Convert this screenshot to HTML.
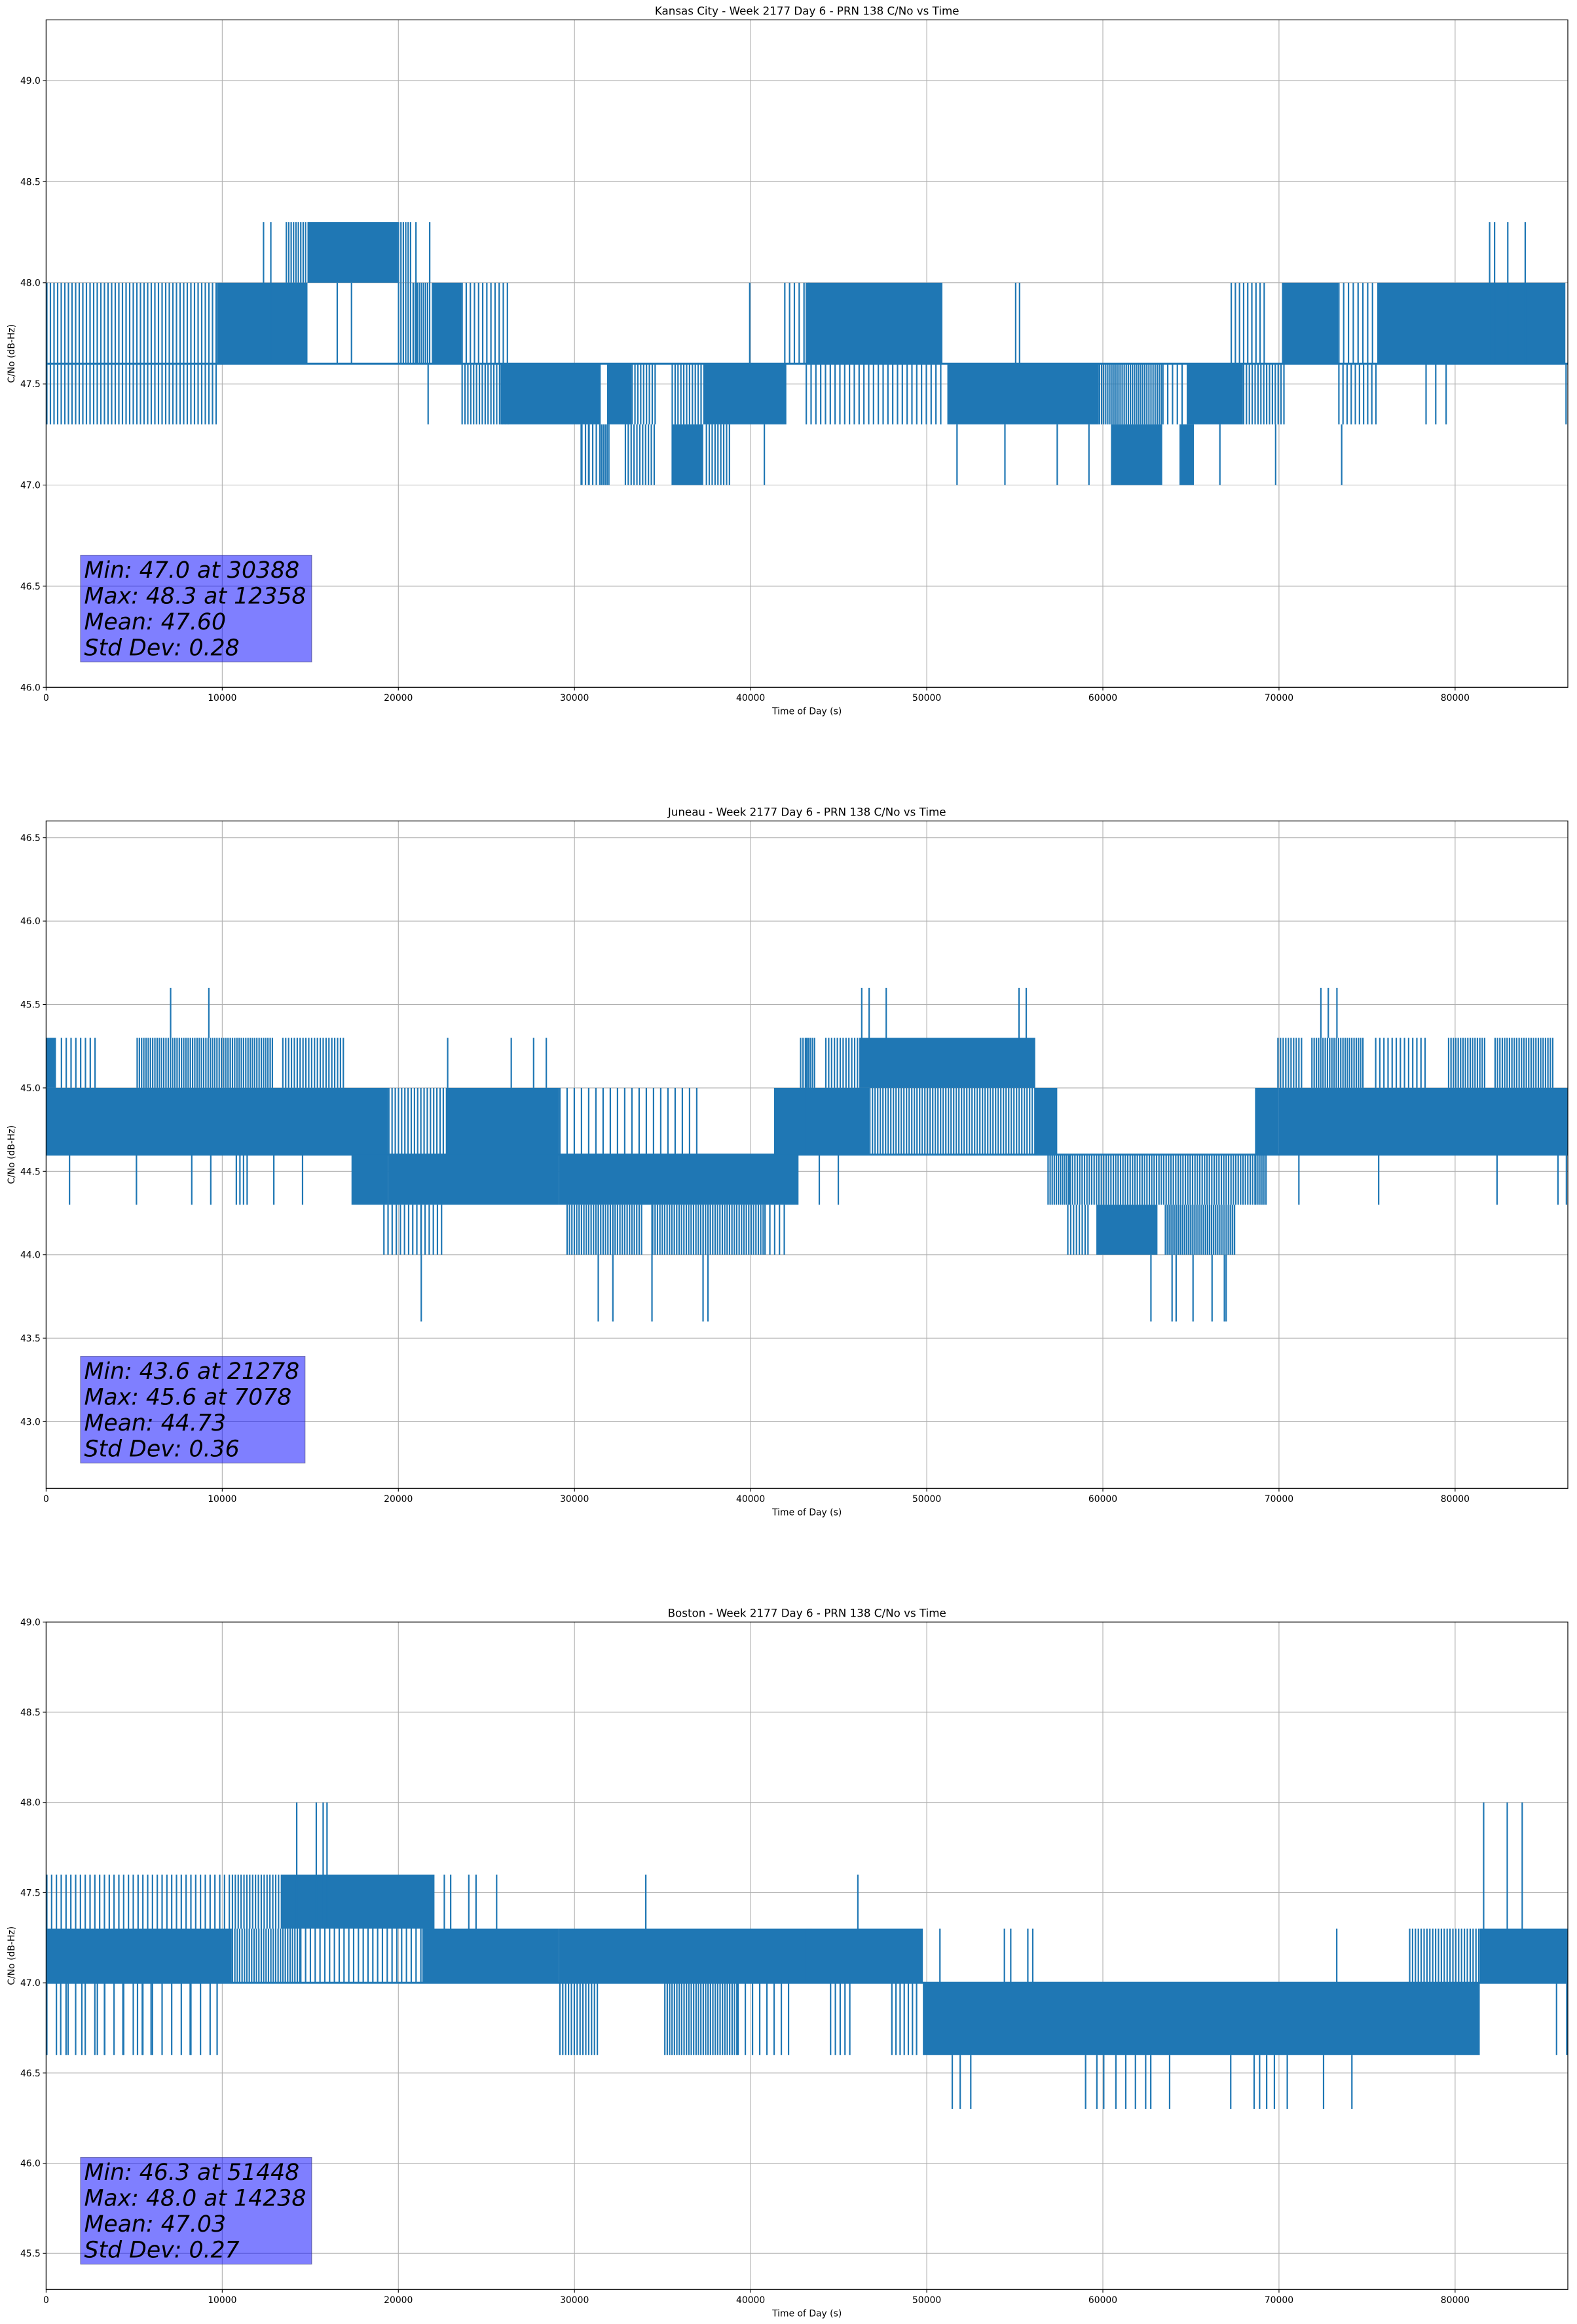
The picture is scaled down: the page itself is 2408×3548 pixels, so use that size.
<!DOCTYPE html>
<html><head><meta charset="utf-8"><title>PRN 138 C/No vs Time</title>
<style>
html,body{margin:0;padding:0;background:#fff;}
svg{display:block;font-family:"DejaVu Sans","Liberation Sans",sans-serif;}
</style></head>
<body>
<svg id="fig" xmlns="http://www.w3.org/2000/svg" width="2408" height="3548" viewBox="0 0 2408 3548"></svg>
<script>
// ---------- Shared axis data ----------
const xTicks = [0,10000,20000,30000,40000,50000,60000,70000,80000];
const xMax = 86400;

// ---------- Kansas City ----------
const kcTitle = "Kansas City - Week 2177 Day 6 - PRN 138 C/No vs Time";
const kcYRange = [46.0, 49.3];
const kcYTicks = [46.0,46.5,47.0,47.5,48.0,48.5,49.0];
const kcStats = ["Min: 47.0 at 30388","Max: 48.3 at 12358","Mean: 47.60","Std Dev: 0.28"];
const kcBandStart = [0,0,9700,12200,13600,14840,19970,19970,20800,21900,23580,23580,25800,30380,31400,31850,32850,33230,35510,35510,37310,37450,41900,43120,43120,51170,59770,60460,63370,64350,64760,67250,67950,70170,73360,73360,75580];
const kcBandEnd   = [9700,9700,12200,14840,14840,19970,20800,20800,21800,23580,26350,26350,31490,31490,32040,33230,34540,34680,37310,37310,42030,38840,43500,50890,50890,59770,63370,63370,64760,65170,67950,69200,70300,73360,75580,75580,86260];
const kcBandLo    = [47.6,47.3,47.6,47.6,48.0,48.0,48.0,47.6,47.6,47.6,47.6,47.3,47.3,47.0,47.0,47.3,47.0,47.3,47.0,47.3,47.3,47.0,47.6,47.6,47.3,47.3,47.3,47.0,47.3,47.0,47.3,47.6,47.3,47.6,47.6,47.3,47.6];
const kcBandHi    = [48.0,47.6,48.0,48.0,48.3,48.3,48.3,48.0,48.0,48.0,48.0,47.6,47.6,47.3,47.3,47.6,47.3,47.6,47.3,47.6,47.6,47.3,48.0,48.0,47.6,47.6,47.6,47.3,47.6,47.3,47.6,48.0,47.6,48.0,48.0,47.6,48.0];
const kcBandDensity=[0.4,0.4,0.95,0.85,0.6,1,0.6,0.6,0.7,1,0.35,0.5,0.95,0.4,0.8,1,0.5,0.5,0.9,0.5,0.9,0.5,0.3,0.85,0.3,0.95,0.7,0.85,0.3,0.9,0.85,0.35,0.5,0.95,0.3,0.35,0.9];
const kcSpikeT  = [12345,12760,16530,17340,21000,21780,21690,30380,30800,40780,39950,51720,54440,57410,59210,66645,69810,55050,55270,81960,82240,82990,83980,78350,78900,79490,73560,86300];
const kcSpikeLo = [47.6,47.6,47.6,47.6,47.6,48.0,47.3,47.0,47.0,47.0,47.6,47.0,47.0,47.0,47.0,47.0,47.0,47.6,47.6,47.6,47.6,47.6,47.6,47.3,47.3,47.3,47.0,47.3];
const kcSpikeHi = [48.3,48.3,48.0,48.0,48.3,48.3,47.6,47.3,47.3,47.3,48.0,47.3,47.3,47.3,47.3,47.3,47.3,48.0,48.0,48.3,48.3,48.3,48.3,47.6,47.6,47.6,47.3,47.6];
const kcBaseLevel = 47.6;

// ---------- Juneau ----------
const jnTitle = "Juneau - Week 2177 Day 6 - PRN 138 C/No vs Time";
const jnYRange = [42.6, 46.6];
const jnYTicks = [43.0,43.5,44.0,44.5,45.0,45.5,46.0,46.5];
const jnStats = ["Min: 43.6 at 21278","Max: 45.6 at 7078","Mean: 44.73","Std Dev: 0.36"];
const jnBandStart = [0,0,830,5130,13400,10760,16500,17340,19420,19420,22750,19140,29130,29540,34400,40780,29130,41330,42800,43120,46730,43120,44230,46170,56160,56850,58100,57970,59630,63510,68640,68640,69970,69900,71830,75450,79590,82230];
const jnBandEnd   = [16640,560,3000,12900,16920,11600,19420,19420,29130,22750,29130,22610,42720,33840,40780,42000,37300,43500,43500,46730,56160,43680,46170,56160,57410,58100,68640,59210,63100,67530,69970,69340,86400,71300,74880,78500,81680,85570];
const jnBandLo    = [44.6,45.0,45.0,45.0,45.0,44.3,44.6,44.3,44.3,44.6,44.6,44.0,44.3,44.0,44.0,44.0,44.6,44.6,45.0,44.6,44.6,45.0,45.0,45.0,44.6,44.3,44.3,44.0,44.0,44.0,44.6,44.3,44.6,45.0,45.0,45.0,45.0,45.0];
const jnBandHi    = [45.0,45.3,45.3,45.3,45.3,44.6,45.0,44.6,44.6,45.0,45.0,44.3,44.6,44.3,44.3,44.3,45.0,45.0,45.3,45.0,45.0,45.3,45.3,45.3,45.0,44.6,44.6,44.3,44.3,44.3,45.0,44.6,45.0,45.3,45.3,45.3,45.3,45.3];
const jnBandDensity=[0.9,0.9,0.3,0.65,0.5,0.4,0.85,0.85,0.9,0.45,0.85,0.35,0.95,0.6,0.6,0.3,0.2,0.9,0.6,0.9,0.55,0.7,0.5,0.9,0.95,0.7,0.6,0.5,0.95,0.75,0.95,0.7,0.85,0.55,0.65,0.35,0.6,0.6];
const jnSpikeT  = [7070,9240,46310,46730,47700,55240,55650,72380,72800,73290,21300,31350,32180,34400,37300,37580,62730,63930,64160,65120,66200,66900,67000,1330,5130,8270,9350,12930,14560,43900,44980,71130,75660,82380,85840,86320,22800,26410,27680,28400];
const jnSpikeLo = [45.3,45.3,45.3,45.3,45.3,45.3,45.3,45.3,45.3,45.3,43.6,43.6,43.6,43.6,43.6,43.6,43.6,43.6,43.6,43.6,43.6,43.6,43.6,44.3,44.3,44.3,44.3,44.3,44.3,44.3,44.3,44.3,44.3,44.3,44.3,44.3,45.0,45.0,45.0,45.0];
const jnSpikeHi = [45.6,45.6,45.6,45.6,45.6,45.6,45.6,45.6,45.6,45.6,44.3,44.3,44.3,44.3,44.3,44.3,44.0,44.0,44.0,44.0,44.0,44.0,44.0,44.6,44.6,44.6,44.6,44.6,44.6,44.6,44.6,44.6,44.6,44.6,44.6,44.6,45.3,45.3,45.3,45.3];
const jnBaseLevel = 44.6;

// ---------- Boston ----------
const bsTitle = "Boston - Week 2177 Day 6 - PRN 138 C/No vs Time";
const bsYRange = [45.3, 49.0];
const bsYTicks = [45.5,46.0,46.5,47.0,47.5,48.0,48.5,49.0];
const bsStats = ["Min: 46.3 at 51448","Max: 48.0 at 14238","Mean: 47.03","Std Dev: 0.27"];
const bsBandStart = [0,10540,14420,21360,29130,0,10540,13320,0,29130,35090,39250,43120,44500,47980,49780,77380,81400];
const bsBandEnd   = [10540,14420,21360,29130,43500,10540,13320,22050,9700,31350,39250,42170,49780,45900,49500,81400,81400,86400];
const bsBandLo    = [47.0,47.0,47.0,47.0,47.0,47.3,47.3,47.3,46.6,46.6,46.6,46.6,47.0,46.6,46.6,46.6,47.0,47.0];
const bsBandHi    = [47.3,47.3,47.3,47.3,47.3,47.6,47.6,47.6,47.0,47.0,47.0,47.0,47.3,47.0,47.0,47.0,47.3,47.3];
const bsBandDensity=[0.9,0.6,0.3,0.95,0.95,0.3,0.5,0.95,0.15,0.5,0.6,0.2,0.85,0.3,0.35,0.95,0.5,0.95];
const bsSpikeT  = [14230,15340,15730,15950,22610,22970,24000,24410,25580,34050,46090,81620,82960,83810,830,1250,2030,2910,3330,4360,5190,5460,5960,8180,9710,51450,51900,52500,59020,59660,60050,60740,61300,61850,62430,62720,63790,67260,68590,68900,69300,69740,70470,72530,74140,50750,54410,54770,55740,56020,73280,85760,86340];
const bsSpikeLo = [47.3,47.3,47.3,47.3,47.3,47.3,47.3,47.3,47.3,47.3,47.0,47.3,47.3,47.3,46.6,46.6,46.6,46.6,46.6,46.6,46.6,46.6,46.6,46.6,46.6,46.3,46.3,46.3,46.3,46.3,46.3,46.3,46.3,46.3,46.3,46.3,46.3,46.3,46.3,46.3,46.3,46.3,46.3,46.3,46.3,47.0,47.0,47.0,47.0,47.0,47.0,46.6,46.6];
const bsSpikeHi = [48.0,48.0,48.0,48.0,47.6,47.6,47.6,47.6,47.6,47.6,47.6,48.0,48.0,48.0,47.0,47.0,47.0,47.0,47.0,47.0,47.0,47.0,47.0,47.0,47.0,46.6,46.6,46.6,46.6,46.6,46.6,46.6,46.6,46.6,46.6,46.6,46.6,46.6,46.6,46.6,46.6,46.6,46.6,46.6,46.6,47.3,47.3,47.3,47.3,47.3,47.3,47.0,47.0];
const bsBaseLevel = 47.0;

const NS = "http://www.w3.org/2000/svg";
const fig = document.getElementById('fig');
const AX_LEFT = 70.4, AX_RIGHT = 2394, AX_H = 1019;
const BLUE = "#1f77b4";

function mk(tag, attrs, parent) {
  const e = document.createElementNS(NS, tag);
  for (const k in attrs) e.setAttribute(k, attrs[k]);
  parent.appendChild(e);
  return e;
}

function drawChart(key, top, title, yRange, yTicks, stats, bS, bE, bLo, bHi, bD, sT, sLo, sHi, base) {
  const bottom = top + AX_H;
  const xs = t => AX_LEFT + t / xMax * (AX_RIGHT - AX_LEFT);
  const ys = v => bottom - (v - yRange[0]) / (yRange[1] - yRange[0]) * AX_H;

  const g = mk('g', {}, fig);
  
  

  const grid = mk('g', {stroke: '#b0b0b0', 'stroke-width': 1.1}, g);
  
  
  xTicks.forEach(t => mk('line', {x1: xs(t), x2: xs(t), y1: top, y2: bottom}, grid));
  yTicks.forEach(v => mk('line', {x1: AX_LEFT, x2: AX_RIGHT, y1: ys(v), y2: ys(v)}, grid));

  const series = mk('g', {}, g);
  
  
  // baseline level trace
  const bl = mk('line', {x1: xs(0), x2: xs(xMax), y1: ys(base), y2: ys(base), stroke: BLUE, 'stroke-width': 3}, series);
  
  
  for (let i = 0; i < bS.length; i++) {
    const x0 = xs(bS[i]), x1 = xs(bE[i]);
    const y0 = ys(bHi[i]), y1 = ys(bLo[i]);
    if (bD[i] >= 0.85) {
      const r = mk('rect', {x: x0, y: y0, width: Math.max(1, x1 - x0), height: y1 - y0, fill: BLUE}, series);
      
      
    } else {
      const bg = mk('g', {stroke: BLUE, 'stroke-width': 2.2}, series);
      
      
      const period = 2.2 / bD[i];
      for (let x = x0 + 1.1; x <= x1; x += period) {
        mk('line', {x1: x, x2: x, y1: y0, y2: y1}, bg);
      }
    }
  }
  for (let i = 0; i < sT.length; i++) {
    const l = mk('line', {x1: xs(sT[i]), x2: xs(sT[i]), y1: ys(sLo[i]), y2: ys(sHi[i]), stroke: BLUE, 'stroke-width': 2.2}, series);
    
    
  }

  const frame = mk('rect', {x: AX_LEFT, y: top, width: AX_RIGHT - AX_LEFT, height: AX_H, fill: 'none', stroke: '#000', 'stroke-width': 1.2}, g);
  
  

  const xt = mk('g', {'font-size': 13.9, fill: '#000', 'text-anchor': 'middle'}, g);
  
  
  xTicks.forEach(t => {
    mk('line', {x1: xs(t), x2: xs(t), y1: bottom, y2: bottom + 4.9, stroke: '#000', 'stroke-width': 1.1}, xt);
    const tx = mk('text', {x: xs(t), y: bottom + 20.5}, xt);
    tx.textContent = String(t);
  });
  const yt = mk('g', {'font-size': 13.9, fill: '#000', 'text-anchor': 'end'}, g);
  
  
  yTicks.forEach(v => {
    mk('line', {x1: AX_LEFT - 4.9, x2: AX_LEFT, y1: ys(v), y2: ys(v), stroke: '#000', 'stroke-width': 1.1}, yt);
    const tx = mk('text', {x: AX_LEFT - 8.5, y: ys(v) + 5}, yt);
    tx.textContent = v.toFixed(1);
  });

  const xl = mk('text', {x: (AX_LEFT + AX_RIGHT) / 2, y: bottom + 41, 'font-size': 13.9, 'text-anchor': 'middle'}, g);
  xl.textContent = 'Time of Day (s)';
  
  
  const cy = top + AX_H / 2;
  const yl = mk('text', {x: 22, y: cy, 'font-size': 13.9, 'text-anchor': 'middle', transform: 'rotate(-90 22 ' + cy + ')'}, g);
  yl.textContent = 'C/No (dB-Hz)';
  
  
  const ti = mk('text', {x: (AX_LEFT + AX_RIGHT) / 2, y: top - 8, 'font-size': 16.7, 'text-anchor': 'middle'}, g);
  ti.textContent = title;
  
  

  const sb = mk('g', {}, g);
  
  
  const boxTop = bottom - 201.7;
  const rect = mk('rect', {x: 123, y: boxTop, width: 351, height: 163, fill: 'rgba(0,0,255,0.5)', stroke: 'rgba(60,60,120,0.6)', 'stroke-width': 1.2}, sb);
  let maxW = 0;
  stats.forEach((s, i) => {
    const tx = mk('text', {x: 128.5, y: boxTop + 34.5 + i * 39.4, 'font-size': 34.7, 'font-style': 'oblique', fill: '#000'}, sb);
    tx.textContent = s;
    
    
    maxW = Math.max(maxW, tx.getComputedTextLength());
  });
  if (maxW > 0) rect.setAttribute('width', maxW + 14);
}

drawChart('kansas-city', 30.3, kcTitle, kcYRange, kcYTicks, kcStats, kcBandStart, kcBandEnd, kcBandLo, kcBandHi, kcBandDensity, kcSpikeT, kcSpikeLo, kcSpikeHi, kcBaseLevel);
drawChart('juneau', 1253.3, jnTitle, jnYRange, jnYTicks, jnStats, jnBandStart, jnBandEnd, jnBandLo, jnBandHi, jnBandDensity, jnSpikeT, jnSpikeLo, jnSpikeHi, jnBaseLevel);
drawChart('boston', 2476.3, bsTitle, bsYRange, bsYTicks, bsStats, bsBandStart, bsBandEnd, bsBandLo, bsBandHi, bsBandDensity, bsSpikeT, bsSpikeLo, bsSpikeHi, bsBaseLevel);
</script>
</body></html>
